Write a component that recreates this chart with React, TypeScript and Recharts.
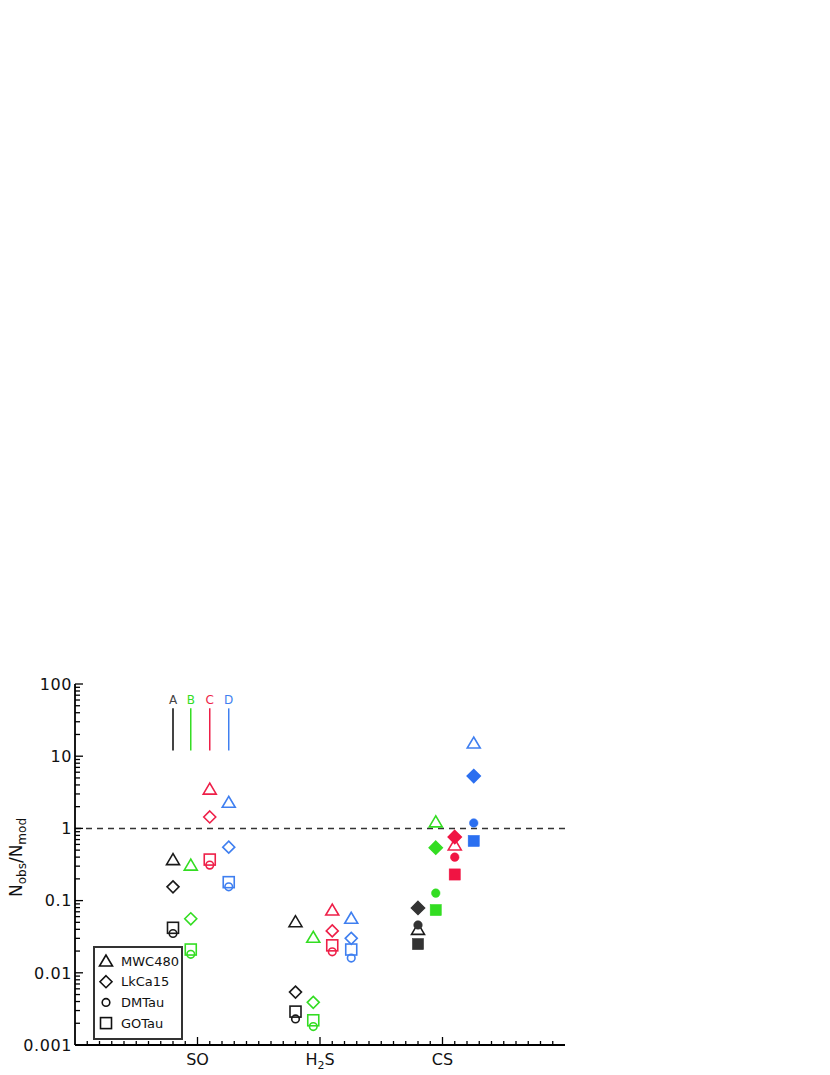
import React from 'react';
import { ScatterChart, Scatter, XAxis, YAxis, ReferenceLine, Legend } from 'recharts';

// categories
const molecules = ['SO', 'H2S', 'CS'];
const models = ['A', 'B', 'C', 'D'];
const sources = ['MWC480', 'LkCa15', 'DMTau', 'GOTau'];
const yTickLabels = [0.001, 0.01, 0.1, 1, 10, 100];

// N_obs / N_mod for SO, H2S, CS
const aMWC480 = [0.37, 0.051, 0.04];
const aLkCa15 = [0.155, 0.0054, 0.079];
const aDMTau = [0.035, 0.0023, 0.046];
const aGOTau = [0.042, 0.0029, 0.025];

const bMWC480 = [0.31, 0.031, 1.23];
const bLkCa15 = [0.056, 0.0039, 0.54];
const bDMTau = [0.018, 0.0018, 0.127];
const bGOTau = [0.021, 0.0022, 0.074];

const cMWC480 = [3.5, 0.074, 0.59];
const cLkCa15 = [1.44, 0.038, 0.76];
const cDMTau = [0.31, 0.0195, 0.4];
const cGOTau = [0.37, 0.024, 0.23];

const dMWC480 = [2.3, 0.057, 15.2];
const dLkCa15 = [0.55, 0.03, 5.3];
const dDMTau = [0.155, 0.016, 1.19];
const dGOTau = [0.18, 0.021, 0.67];

// model marker bars near the top (from, to)
const modelBar = [12, 46];

const table = [
  [aMWC480, aLkCa15, aDMTau, aGOTau],
  [bMWC480, bLkCa15, bDMTau, bGOTau],
  [cMWC480, cLkCa15, cDMTau, cGOTau],
  [dMWC480, dLkCa15, dDMTau, dGOTau],
];

// styling
const offsets = [-0.2, -0.055, 0.1, 0.255];
const colors = ['#1a1a1a', '#33dd22', '#ee1f48', '#3f7ff0'];
const fillColors = ['#333333', '#33dd22', '#f01443', '#2b6ff0'];
const labelColors = ['#444444', '#33dd22', '#ee1f48', '#3f7ff0'];
const kinds = ['triangle', 'diamond', 'circle', 'square'];
const FONT = 'DejaVu Sans, sans-serif';

const series = models.flatMap((m, i) =>
  sources.map((s, j) => ({
    key: m + s,
    model: i,
    source: j,
    points: table[i][j].map((v, k) => ({
      x: k + 1 + offsets[i],
      y: v,
      filled: molecules[k] === 'CS' && kinds[j] !== 'triangle',
    })),
  }))
);

// tick positions (majors plus minor ticks between them)
const yTicks: number[] = [];
yTickLabels.slice(0, -1).forEach((d) => {
  for (let k = 1; k < 10; k++) yTicks.push(Number((d * k).toPrecision(3)));
});
yTicks.push(100);
const xTicks = Array.from({ length: 39 }, (_, i) => Number(((i + 1) / 10).toFixed(1)));

const isMajorY = (v: number) => yTickLabels.some((t) => Math.abs(t - v) < t * 1e-6);
const isMajorX = (v: number) => Math.abs(v - Math.round(v)) < 1e-6;

const Marker = ({ kind, cx, cy, color, filled }: any) => {
  const sw = 1.6;
  const fill = filled ? color : 'none';
  if (kind === 'triangle') {
    const pts = `${cx},${cy - 6} ${cx - 6.5},${cy + 5} ${cx + 6.5},${cy + 5}`;
    return <polygon points={pts} fill="none" stroke={color} strokeWidth={sw} strokeLinejoin="miter" />;
  }
  if (kind === 'diamond') {
    const r = filled ? 6.5 : 6;
    const pts = `${cx},${cy - r} ${cx + r},${cy} ${cx},${cy + r} ${cx - r},${cy}`;
    return <polygon points={pts} fill={fill} stroke={color} strokeWidth={sw} />;
  }
  if (kind === 'circle') {
    return <circle cx={cx} cy={cy} r={filled ? 4.3 : 3.8} fill={fill} stroke={color} strokeWidth={filled ? 0.5 : sw} />;
  }
  const h = filled ? 5.6 : 5.5;
  return <rect x={cx - h} y={cy - h} width={2 * h} height={2 * h} fill={fill} stroke={color} strokeWidth={filled ? 0.5 : sw} />;
};

const LeftTick = ({ x, y, payload }: any) => {
  const major = isMajorY(payload.value);
  return (
    <g>
      <line x1={x} x2={x + (major ? 8 : 5)} y1={y} y2={y} stroke="#000" strokeWidth={1.3} />
      {major && (
        <text x={x - 3} y={y} dy="0.36em" textAnchor="end" fontSize={16} fontFamily={FONT} fill="#111" letterSpacing={0.6}>
          {String(payload.value)}
        </text>
      )}
    </g>
  );
};

const RightTick = ({ x, y, payload }: any) => {
  const major = isMajorY(payload.value);
  return <line x1={x - (major ? 8 : 5)} x2={x} y1={y} y2={y} stroke="#000" strokeWidth={1.3} />;
};

const BottomTick = ({ x, y, payload }: any) => {
  const major = isMajorX(payload.value);
  const name = major ? molecules[Math.round(payload.value) - 1] : null;
  return (
    <g>
      <line x1={x} x2={x} y1={y} y2={y - (major ? 8 : 4)} stroke="#000" strokeWidth={1.3} />
      {name && (
        <text x={x} y={y + 20} textAnchor="middle" fontSize={16} fontFamily={FONT} fill="#111">
          {name === 'H2S' ? (
            <>
              H<tspan dy={4} fontSize={11}>2</tspan>
              <tspan dy={-4}>S</tspan>
            </>
          ) : (
            name
          )}
        </text>
      )}
    </g>
  );
};

const TopTick = ({ x, y, payload }: any) => {
  const major = isMajorX(payload.value);
  return <line x1={x} x2={x} y1={y} y2={y + (major ? 8 : 4)} stroke="#000" strokeWidth={1.3} />;
};

const YLabel = ({ viewBox }: any) => {
  const x = viewBox.x + 7;
  const y = viewBox.y + viewBox.height / 2 - 7;
  return (
    <text x={x} y={y} transform={`rotate(-90, ${x}, ${y})`} textAnchor="middle" fontSize={17} fontFamily={FONT} fill="#111">
      N<tspan dy={4} fontSize={12}>obs</tspan>
      <tspan dy={-4}>/N</tspan>
      <tspan dy={4} fontSize={12}>mod</tspan>
    </text>
  );
};

const LegendBox = () => (
  <svg width={90} height={94} style={{ display: 'block' }}>
    <rect x={1} y={1} width={88} height={92} fill="#fff" stroke="#333" strokeWidth={2} />
    {sources.map((s, j) => {
      const cy = 15 + j * 20.7;
      return (
        <g key={s}>
          <Marker kind={kinds[j]} cx={13} cy={cy} color="#111" filled={false} />
          <text x={28} y={cy} dy="0.36em" fontSize={13} fontFamily={FONT} fill="#111">
            {s}
          </text>
        </g>
      );
    })}
  </svg>
);

const App: React.FC = () => {
  return (
    <ScatterChart width={822} height={1067} margin={{ top: 676, right: 265, left: 7, bottom: 0 }}>
      <XAxis
        type="number"
        dataKey="x"
        domain={[0, 4]}
        ticks={xTicks}
        interval={0}
        allowDataOverflow
        height={30}
        tickSize={0}
        tickMargin={0}
        tickLine={false}
        axisLine={{ stroke: '#000', strokeWidth: 1.8 }}
        tick={<BottomTick />}
      />
      <XAxis
        xAxisId="top"
        orientation="top"
        type="number"
        domain={[0, 4]}
        ticks={xTicks}
        interval={0}
        allowDataOverflow
        height={0}
        tickSize={0}
        tickMargin={0}
        tickLine={false}
        axisLine={{ stroke: '#000', strokeWidth: 1.8 }}
        tick={<TopTick />}
      />
      <YAxis
        type="number"
        dataKey="y"
        scale="log"
        domain={[0.001, 100]}
        ticks={yTicks}
        interval={0}
        allowDataOverflow
        width={60}
        tickSize={0}
        tickMargin={0}
        tickLine={false}
        axisLine={{ stroke: '#000', strokeWidth: 1.8 }}
        tick={<LeftTick />}
        label={{ content: (p: any) => <YLabel {...p} /> }}
      />
      <YAxis
        yAxisId="right"
        orientation="right"
        type="number"
        scale="log"
        domain={[0.001, 100]}
        ticks={yTicks}
        interval={0}
        allowDataOverflow
        width={0}
        tickSize={0}
        tickMargin={0}
        tickLine={false}
        axisLine={{ stroke: '#000', strokeWidth: 1.8 }}
        tick={<RightTick />}
      />
      <ReferenceLine y={1} stroke="#333" strokeWidth={1.5} strokeDasharray="6 5" />
      {models.map((m, i) => (
        <ReferenceLine
          key={'bar' + m}
          segment={[
            { x: 1 + offsets[i], y: modelBar[0] },
            { x: 1 + offsets[i], y: modelBar[1] },
          ]}
          stroke={labelColors[i]}
          strokeWidth={i === 0 ? 2 : 1.5}
          label={{ value: m, position: 'top', fill: labelColors[i], fontSize: 12, fontFamily: FONT, offset: 4 }}
        />
      ))}
      {series.map((s) => (
        <Scatter
          key={s.key}
          data={s.points}
          isAnimationActive={false}
          shape={(p: any) => (
            <Marker
              kind={kinds[s.source]}
              cx={p.cx}
              cy={p.cy}
              color={p.payload.filled ? fillColors[s.model] : colors[s.model]}
              filled={p.payload.filled}
            />
          )}
        />
      ))}
      <Legend
        layout="horizontal"
        align="center"
        verticalAlign="middle"
        width={90}
        height={94}
        wrapperStyle={{ left: 85, top: 938, width: 90, height: 94 }}
        content={() => <LegendBox />}
      />
    </ScatterChart>
  );
};

export default App;
